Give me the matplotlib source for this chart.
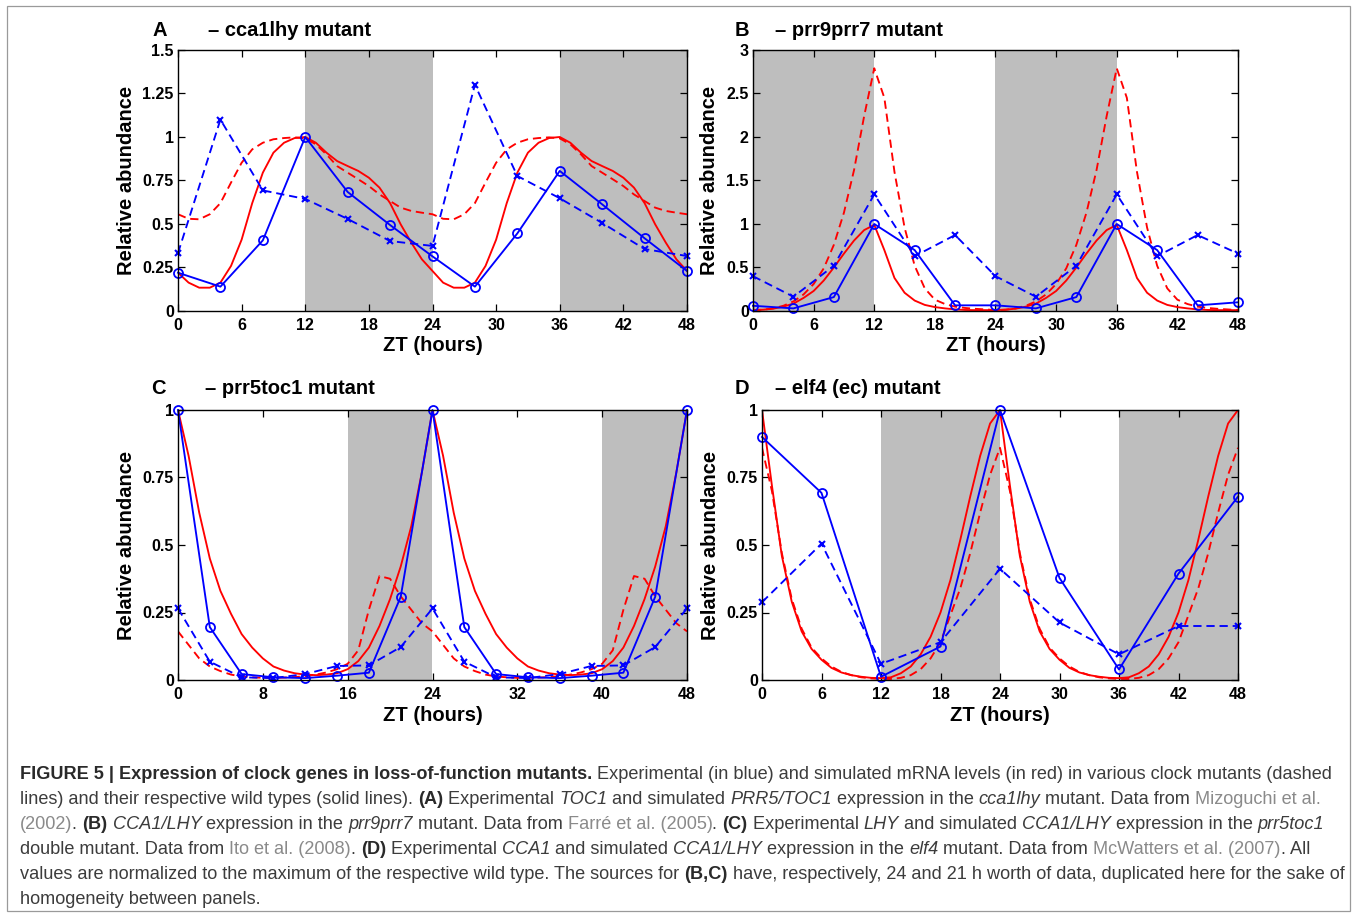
import numpy as np
import matplotlib
matplotlib.use('Agg')
import matplotlib.pyplot as plt
from matplotlib import font_manager
from matplotlib.patches import Rectangle

# ---------------- data ----------------
sim_hours = list(range(49))

# Panel A - cca1lhy mutant
a_exp_hours = [0, 4, 8, 12, 16, 20, 24, 28, 32, 36, 40, 44, 48]
a_wt_exp = [0.22, 0.14, 0.406, 1.0, 0.684, 0.494, 0.314, 0.14, 0.446, 0.805, 0.613, 0.418, 0.23]
a_mut_exp = [0.333, 1.10, 0.693, 0.644, 0.529, 0.402, 0.374, 1.30, 0.776, 0.648, 0.506, 0.356, 0.316]
a_wt_sim = [0.22, 0.163, 0.134, 0.134, 0.163, 0.259, 0.41, 0.62, 0.795, 0.91, 0.967, 0.994, 1.0,
            0.967, 0.91, 0.862, 0.833, 0.805, 0.766, 0.709, 0.62, 0.498, 0.393, 0.297, 0.23,
            0.163, 0.134, 0.134, 0.163, 0.259, 0.41, 0.62, 0.795, 0.91, 0.967, 0.994, 1.0,
            0.967, 0.91, 0.862, 0.833, 0.805, 0.766, 0.709, 0.62, 0.498, 0.393, 0.297, 0.23]
a_mut_sim = [0.556, 0.53, 0.527, 0.556, 0.62, 0.738, 0.852, 0.929, 0.967, 0.987, 0.994, 0.998, 0.992,
             0.958, 0.90, 0.833, 0.795, 0.757, 0.718, 0.67, 0.632, 0.594, 0.575, 0.565, 0.556,
             0.53, 0.527, 0.556, 0.62, 0.738, 0.852, 0.929, 0.967, 0.987, 0.994, 0.998, 0.992,
             0.958, 0.90, 0.833, 0.795, 0.757, 0.718, 0.67, 0.632, 0.594, 0.575, 0.565, 0.556]

# Panel B - prr9prr7 mutant
b_exp_hours = [0, 4, 8, 12, 16, 20, 24, 28, 32, 36, 40, 44, 48]
b_wt_exp = [0.06, 0.03, 0.16, 1.0, 0.70, 0.065, 0.065, 0.03, 0.16, 1.0, 0.70, 0.065, 0.10]
b_mut_exp = [0.40, 0.164, 0.52, 1.34, 0.63, 0.873, 0.40, 0.164, 0.52, 1.34, 0.63, 0.873, 0.66]
b_wt_sim = [0.01, 0.015, 0.027, 0.05, 0.085, 0.15, 0.23, 0.35, 0.50, 0.66, 0.81, 0.93, 0.99,
            0.70, 0.38, 0.21, 0.12, 0.07, 0.045, 0.03, 0.018, 0.012, 0.01, 0.01, 0.01,
            0.015, 0.027, 0.05, 0.085, 0.15, 0.23, 0.35, 0.50, 0.66, 0.81, 0.93, 0.99,
            0.70, 0.38, 0.21, 0.12, 0.07, 0.045, 0.03, 0.018, 0.012, 0.01, 0.01, 0.01]
b_mut_sim = [0.01, 0.015, 0.03, 0.06, 0.11, 0.19, 0.31, 0.49, 0.76, 1.13, 1.62, 2.24, 2.79,
             2.45, 1.60, 0.96, 0.52, 0.26, 0.13, 0.08, 0.05, 0.035, 0.025, 0.018, 0.01,
             0.015, 0.03, 0.06, 0.11, 0.19, 0.31, 0.49, 0.76, 1.13, 1.62, 2.24, 2.79,
             2.45, 1.60, 0.96, 0.52, 0.26, 0.13, 0.08, 0.05, 0.035, 0.025, 0.018, 0.01]

# Panel C - prr5toc1 mutant
c_exp_hours = [0, 3, 6, 9, 12, 15, 18, 21, 24, 27, 30, 33, 36, 39, 42, 45, 48]
c_wt_exp = [1.0, 0.196, 0.022, 0.01, 0.007, 0.016, 0.027, 0.308, 1.0,
            0.196, 0.022, 0.01, 0.007, 0.016, 0.027, 0.308, 1.0]
c_mut_exp = [0.265, 0.068, 0.01, 0.007, 0.022, 0.052, 0.054, 0.122, 0.265,
             0.068, 0.01, 0.007, 0.022, 0.052, 0.054, 0.122, 0.265]
c_wt_sim = [1.0, 0.83, 0.62, 0.45, 0.33, 0.245, 0.17, 0.12, 0.08, 0.05, 0.035, 0.025, 0.02,
            0.018, 0.02, 0.025, 0.04, 0.07, 0.12, 0.20, 0.30, 0.42, 0.57, 0.77, 1.0,
            0.83, 0.62, 0.45, 0.33, 0.245, 0.17, 0.12, 0.08, 0.05, 0.035, 0.025, 0.02,
            0.018, 0.02, 0.025, 0.04, 0.07, 0.12, 0.20, 0.30, 0.42, 0.57, 0.77, 1.0]
c_mut_sim = [0.18, 0.13, 0.08, 0.05, 0.033, 0.02, 0.013, 0.01, 0.008, 0.008, 0.009, 0.011, 0.014,
             0.02, 0.028, 0.04, 0.06, 0.11, 0.26, 0.385, 0.375, 0.31, 0.26, 0.21, 0.18,
             0.13, 0.08, 0.05, 0.033, 0.02, 0.013, 0.01, 0.008, 0.008, 0.009, 0.011, 0.014,
             0.02, 0.028, 0.04, 0.06, 0.11, 0.26, 0.385, 0.375, 0.31, 0.26, 0.21, 0.18]

# Panel D - elf4 (ec) mutant
d_exp_hours = [0, 6, 12, 18, 24, 30, 36, 42, 48]
d_wt_exp = [0.90, 0.693, 0.012, 0.124, 1.0, 0.378, 0.039, 0.394, 0.679]
d_mut_exp = [0.288, 0.505, 0.06, 0.14, 0.412, 0.213, 0.095, 0.20, 0.20]
d_wt_sim = [1.0, 0.72, 0.46, 0.29, 0.18, 0.115, 0.075, 0.045, 0.028, 0.018, 0.012, 0.008, 0.007,
            0.01, 0.025, 0.05, 0.095, 0.16, 0.25, 0.37, 0.52, 0.68, 0.83, 0.95, 1.0,
            0.72, 0.46, 0.29, 0.18, 0.115, 0.075, 0.045, 0.028, 0.018, 0.012, 0.008, 0.007,
            0.01, 0.025, 0.05, 0.095, 0.16, 0.25, 0.37, 0.52, 0.68, 0.83, 0.95, 1.0]
d_mut_sim = [0.86, 0.70, 0.47, 0.30, 0.19, 0.12, 0.08, 0.05, 0.03, 0.018, 0.01, 0.006, 0.004,
             0.004, 0.008, 0.018, 0.04, 0.08, 0.14, 0.24, 0.34, 0.47, 0.62, 0.76, 0.86,
             0.70, 0.47, 0.30, 0.19, 0.12, 0.08, 0.05, 0.03, 0.018, 0.01, 0.006, 0.004,
             0.004, 0.008, 0.018, 0.04, 0.08, 0.14, 0.24, 0.34, 0.47, 0.62, 0.76, 0.86]

# dark periods (start, end) in hours
a_dark = [(12, 24), (36, 48)]
b_dark = [(0, 12), (24, 36)]
c_dark = [(16, 24), (40, 48)]
d_dark = [(12, 24), (36, 48)]

x_ticks_6 = [0, 6, 12, 18, 24, 30, 36, 42, 48]
x_ticks_8 = [0, 8, 16, 24, 32, 40, 48]
a_yticks = [0, 0.25, 0.5, 0.75, 1, 1.25, 1.5]
a_yticklabels = ['0', '0.25', '0.5', '0.75', '1', '1.25', '1.5']
b_yticks = [0, 0.5, 1, 1.5, 2, 2.5, 3]
b_yticklabels = ['0', '0.5', '1', '1.5', '2', '2.5', '3']
cd_yticks = [0, 0.25, 0.5, 0.75, 1]
cd_yticklabels = ['0', '0.25', '0.5', '0.75', '1']

panel_letters = ['A', 'B', 'C', 'D']
panel_titles = ['\u2013 cca1lhy mutant', '\u2013 prr9prr7 mutant',
                '\u2013 prr5toc1 mutant', '\u2013 elf4 (ec) mutant']
x_label = 'ZT (hours)'
y_label = 'Relative abundance'

# ---------------- figure ----------------
W, H = 1357, 916
names = {f.name for f in font_manager.fontManager.ttflist}
SANS = 'Liberation Sans' if 'Liberation Sans' in names else 'DejaVu Sans'
NARROW = 'Liberation Sans Narrow' if 'Liberation Sans Narrow' in names else SANS
plt.rcParams['font.family'] = [SANS, 'DejaVu Sans']
plt.rcParams['font.weight'] = 'bold'

fig = plt.figure(figsize=(W / 100, H / 100), dpi=100)
fig.patch.set_facecolor('white')

BLUE = '#0000ff'
RED = '#ff0000'
SHADE = '#bebebe'
DASH = (0, (4.4, 2.6))


def add_axes_px(l, t, r, b):
    return fig.add_axes([l / W, 1 - b / H, (r - l) / W, (b - t) / H])


def draw_panel(box, dark, exp_h, wt_exp, mut_exp, wt_sim, mut_sim, ylim, yticks, yticklabels,
               xticks, ylab_x):
    ax = add_axes_px(*box)
    for s, e in dark:
        ax.axvspan(s, e, color=SHADE, lw=0, zorder=0)
    ax.plot(sim_hours, wt_sim, '-', color=RED, lw=1.35, zorder=2)
    ax.plot(sim_hours, mut_sim, linestyle=DASH, color=RED, lw=1.35, zorder=2)
    ax.plot(exp_h, wt_exp, '-', color=BLUE, lw=1.35, marker='o', ms=6.5, mfc='none',
            mew=1.3, clip_on=False, zorder=4)
    ax.plot(exp_h, mut_exp, linestyle=DASH, color=BLUE, lw=1.35, marker='x', ms=4.5,
            mew=1.5, clip_on=False, zorder=3)
    ax.set_xlim(0, 48)
    ax.set_ylim(*ylim)
    ax.set_xticks(xticks)
    ax.set_xticklabels([str(v) for v in xticks])
    ax.set_yticks(yticks)
    ax.set_yticklabels(yticklabels)
    ax.tick_params(direction='in', top=True, right=True, length=5, width=0.9,
                   labelsize=11.5, color='black')
    ax.tick_params(axis='x', pad=5)
    ax.tick_params(axis='y', pad=3)
    for sp in ax.spines.values():
        sp.set_linewidth(1.0)
        sp.set_zorder(5)
    ax.text(ylab_x, 0.5, y_label, transform=ax.transAxes, rotation=90, ha='center',
            va='center', fontsize=14.5, fontweight='bold')
    ax.text(0.5, -0.133, x_label, transform=ax.transAxes, ha='center', va='center',
            fontsize=14.5, fontweight='bold')
    return ax


boxA = (178, 50, 687, 311)
boxB = (753, 50, 1238, 311)
boxC = (178, 410, 687, 680)
boxD = (762, 410, 1238, 680)

draw_panel(boxA, a_dark, a_exp_hours, a_wt_exp, a_mut_exp, a_wt_sim, a_mut_sim, (0, 1.5),
           a_yticks, a_yticklabels, x_ticks_6, (127 - 178) / 509)
draw_panel(boxB, b_dark, b_exp_hours, b_wt_exp, b_mut_exp, b_wt_sim, b_mut_sim, (0, 3),
           b_yticks, b_yticklabels, x_ticks_6, (710 - 753) / 485)
draw_panel(boxC, c_dark, c_exp_hours, c_wt_exp, c_mut_exp, c_wt_sim, c_mut_sim, (0, 1),
           cd_yticks, cd_yticklabels, x_ticks_8, (127 - 178) / 509)
draw_panel(boxD, d_dark, d_exp_hours, d_wt_exp, d_mut_exp, d_wt_sim, d_mut_sim, (0, 1),
           cd_yticks, cd_yticklabels, x_ticks_6, (710 - 762) / 476)

letter_pos = [(160, 31), (742, 31), (158, 389), (742, 389)]
title_pos = [(208, 31), (775, 31), (205, 389), (775, 389)]
for L, T, lp, tp in zip(panel_letters, panel_titles, letter_pos, title_pos):
    fig.text(lp[0] / W, 1 - lp[1] / H, L, ha='center', va='center', fontsize=14.5,
             fontweight='bold')
    fig.text(tp[0] / W, 1 - tp[1] / H, T, ha='left', va='center', fontsize=14.5,
             fontweight='bold')

# outer border
fig.add_artist(Rectangle((7 / W, 1 - 911 / H), (1350 - 7) / W, (911 - 6) / H,
                         transform=fig.transFigure, fill=False, edgecolor='#9a9a9a', lw=0.9))

# ---------------- caption ----------------
caption_lines = [
    [("FIGURE 5 | Expression of clock genes in loss-of-function mutants.", 'b'),
     (" Experimental (in blue) and simulated mRNA levels (in red) in various clock mutants (dashed", 'n')],
    [("lines) and their respective wild types (solid lines). ", 'n'), ("(A)", 'b'),
     (" Experimental ", 'n'), ("TOC1", 'i'), (" and simulated ", 'n'), ("PRR5/TOC1", 'i'),
     (" expression in the ", 'n'), ("cca1lhy", 'i'), (" mutant. Data from ", 'n'),
     ("Mizoguchi et al.", 'g')],
    [("(2002)", 'g'), (". ", 'n'), ("(B)", 'b'), (" ", 'n'), ("CCA1/LHY", 'i'),
     (" expression in the ", 'n'), ("prr9prr7", 'i'), (" mutant. Data from ", 'n'),
     ("Farré et al. (2005)", 'g'), (". ", 'n'), ("(C)", 'b'), (" Experimental ", 'n'),
     ("LHY", 'i'), (" and simulated ", 'n'), ("CCA1/LHY", 'i'), (" expression in the ", 'n'),
     ("prr5toc1", 'i')],
    [("double mutant. Data from ", 'n'), ("Ito et al. (2008)", 'g'), (". ", 'n'), ("(D)", 'b'),
     (" Experimental ", 'n'), ("CCA1", 'i'), (" and simulated ", 'n'), ("CCA1/LHY", 'i'),
     (" expression in the ", 'n'), ("elf4", 'i'), (" mutant. Data from ", 'n'),
     ("McWatters et al. (2007)", 'g'), (". All", 'n')],
    [("values are normalized to the maximum of the respective wild type. The sources for ", 'n'),
     ("(B,C)", 'b'),
     (" have, respectively, 24 and 21 h worth of data, duplicated here for the sake of", 'n')],
    [("homogeneity between panels.", 'n')],
]
caption_baselines = [779, 804, 829, 854, 879, 904]
STYLE = {
    'n': dict(fontweight='normal', fontstyle='normal', color='#3c3c3c'),
    'b': dict(fontweight='bold', fontstyle='normal', color='#2a2a2a'),
    'i': dict(fontweight='normal', fontstyle='italic', color='#3c3c3c'),
    'g': dict(fontweight='normal', fontstyle='normal', color='#8a8a8a'),
}

renderer = fig.canvas.get_renderer()


def run_width(text, style, size):
    t1 = fig.text(0, 0, '|' + text + '|', fontsize=size, family=[NARROW, 'DejaVu Sans'],
                  **STYLE[style])
    t2 = fig.text(0, 0, '||', fontsize=size, family=[NARROW, 'DejaVu Sans'], **STYLE[style])
    w = t1.get_window_extent(renderer).width - t2.get_window_extent(renderer).width
    t1.remove()
    t2.remove()
    return w


base_size = 12.0
w1 = sum(run_width(t, s, base_size) for t, s in caption_lines[0])
cap_size = base_size * (1331 - 20) / w1

for line, yb in zip(caption_lines, caption_baselines):
    x = 20.0
    for text, style in line:
        fig.text(x / W, 1 - yb / H, text, fontsize=cap_size, family=[NARROW, 'DejaVu Sans'],
                 va='baseline', ha='left', **STYLE[style])
        x += run_width(text, style, cap_size)

fig.savefig('out.png', dpi=100, facecolor='white')
